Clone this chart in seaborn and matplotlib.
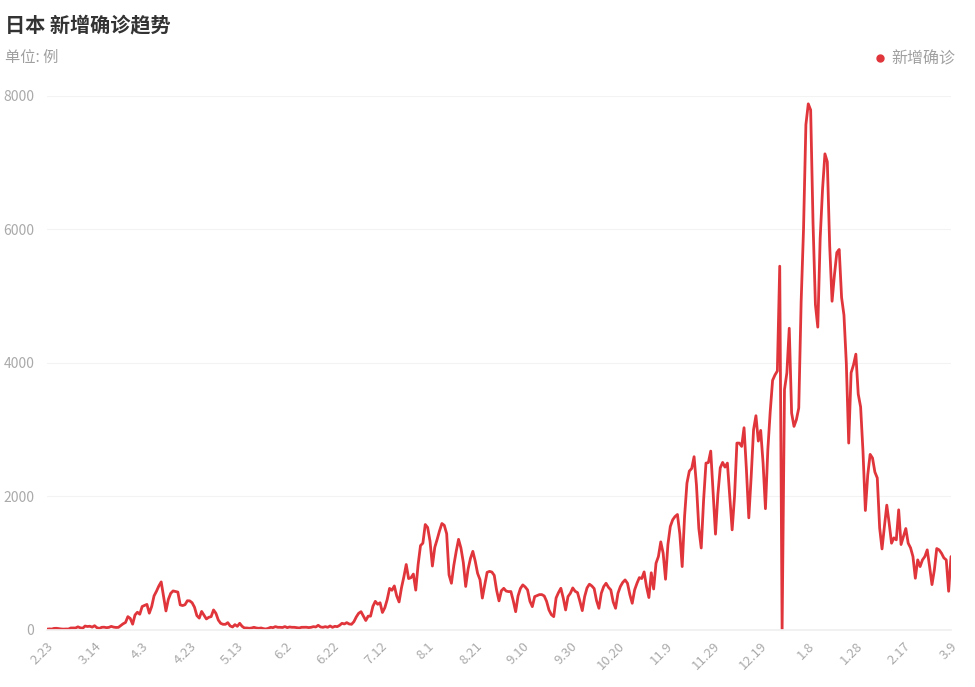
import numpy as np
import pandas as pd
import matplotlib
matplotlib.use("Agg")
import matplotlib.pyplot as plt
from matplotlib.lines import Line2D
import seaborn as sns

# daily new confirmed cases in Japan, 2020-02-23 .. 2021-03-09
feb_2020 = [12, 16, 14, 24, 25, 20, 15]
mar_2020 = [13, 15, 14, 30, 30, 30, 47, 33, 26, 59, 52, 56, 43, 64, 34, 24,
            40, 42, 35, 39, 54, 43, 38, 39, 65, 93, 112, 200, 173, 87, 225]
apr_2020 = [266, 236, 351, 368, 383, 252, 351, 511, 579, 658, 720, 507, 285,
            457, 549, 585, 576, 568, 376, 366, 378, 438, 436, 408, 341, 215,
            178, 278, 222, 165]
may_2020 = [190, 200, 300, 250, 150, 100, 85, 85, 110, 60, 45, 80, 55, 100,
            55, 30, 30, 25, 30, 40, 30, 25, 30, 20, 15, 25, 40, 35, 50, 40, 40]
jun_2020 = [37, 51, 35, 45, 40, 40, 35, 30, 40, 40, 41, 36, 40, 50, 45, 70,
            45, 40, 50, 40, 60, 40, 55, 50, 70, 100, 90, 110, 90, 85]
jul_2020 = [124, 195, 250, 274, 208, 142, 207, 207, 355, 429, 385, 408, 262,
            333, 455, 623, 595, 660, 510, 420, 631, 795, 981, 770, 783, 838,
            597, 981, 1264, 1301, 1580]
aug_2020 = [1536, 1331, 958, 1237, 1357, 1485, 1595, 1568, 1442, 826, 700,
            967, 1176, 1358, 1227, 1011, 652, 910, 1072, 1178, 1032, 849, 755,
            478, 676, 863, 878, 868, 818, 594, 436]
sep_2020 = [588, 624, 583, 575, 576, 437, 274, 509, 622, 675, 645, 600, 430,
            350, 500, 515, 530, 530, 510, 430, 300, 230, 200, 480, 560, 625,
            480, 300, 500, 550]
oct_2020 = [630, 580, 560, 430, 290, 500, 630, 686, 660, 620, 440, 325, 550,
            650, 700, 640, 600, 420, 325, 550, 650, 712, 750, 700, 530, 400,
            600, 700, 785, 770, 870]
nov_2020 = [650, 486, 857, 614, 1000, 1100, 1320, 1150, 760, 1280, 1550, 1650,
            1700, 1730, 1440, 950, 1700, 2200, 2380, 2420, 2596, 2170, 1520,
            1228, 1945, 2500, 2508, 2680, 2070, 1436]
dec_2020 = [2030, 2430, 2510, 2440, 2500, 2000, 1500, 2000, 2800, 2800, 2750,
            3030, 2400, 1680, 2300, 3000, 3210, 2830, 2990, 2500, 1817, 2700,
            3270, 3740, 3820, 3880, 5450, 0, 3600, 3850, 4520]
jan_2021 = [3250, 3050, 3150, 3325, 4915, 6001, 7570, 7882, 7790, 6094, 4875,
            4537, 5867, 6605, 7133, 7014, 5759, 4925, 5320, 5654, 5701, 4982,
            4717, 3990, 2800, 3853, 3970, 4132, 3534, 3341, 2673]
feb_2021 = [1790, 2324, 2631, 2576, 2366, 2278, 1530, 1214, 1550, 1870, 1600,
            1300, 1380, 1350, 1800, 1280, 1400, 1520, 1300, 1230, 1100, 775,
            1050, 950, 1050, 1100, 1200, 950]
mar_2021 = [680, 900, 1220, 1200, 1150, 1080, 1050, 580, 1100]

tick_labels = ["2.23", "3.14", "4.3", "4.23", "5.13", "6.2", "6.22", "7.12",
               "8.1", "8.21", "9.10", "9.30", "10.20", "11.9", "11.29",
               "12.19", "1.8", "1.28", "2.17", "3.9"]

cases = (feb_2020 + mar_2020 + apr_2020 + may_2020 + jun_2020 + jul_2020
         + aug_2020 + sep_2020 + oct_2020 + nov_2020 + dec_2020 + jan_2021
         + feb_2021 + mar_2021)
df = pd.DataFrame({"day": np.arange(len(cases)), "cases": cases})

sns.set_theme(style="white")
plt.rcParams["font.family"] = ["Noto Sans CJK SC", "DejaVu Sans"]

line_color = "#e0353b"
fig = plt.figure(figsize=(9.75, 6.87), dpi=100)
ax = fig.add_axes([0.0482, 0.0830, 0.9272, 0.7773])

sns.lineplot(data=df, x="day", y="cases", color=line_color, linewidth=2.0, ax=ax)

ax.set_xlim(0, len(cases) - 1)
ax.set_ylim(0, 8000)
ax.set_yticks([0, 2000, 4000, 6000, 8000])
ax.set_xticks(range(0, len(cases), 20))
ax.set_xticklabels(tick_labels, rotation=45, ha="right", rotation_mode="anchor")
ax.tick_params(axis="both", length=0, labelsize=9.5, labelcolor="#aaaaaa")
ax.tick_params(axis="y", pad=9, labelsize=10)
ax.tick_params(axis="x", pad=7)
ax.set_xlabel("")
ax.set_ylabel("")
ax.grid(axis="y", color="#f3f3f3", linewidth=0.8)
for side in ["top", "right", "left"]:
    ax.spines[side].set_visible(False)
ax.spines["bottom"].set_color("#f0f0f0")

fig.text(5 / 975, 1 - 25 / 687, "日本 新增确诊趋势", fontsize=14.5,
         fontweight="bold", color="#333333", va="center", ha="left")
fig.text(5 / 975, 1 - 57 / 687, "单位: 例", fontsize=11, color="#a0a0a0",
         va="center", ha="left")

handle = Line2D([], [], marker="o", color=line_color, linestyle="none", markersize=5)
ax.legend([handle], ["新增确诊"], loc="center right", frameon=False,
          bbox_to_anchor=(970 / 975, 1 - 59 / 687), bbox_transform=fig.transFigure,
          handletextpad=0.2, handlelength=1.0, prop={"size": 11.5},
          labelcolor="#a0a0a0")

fig.savefig("out.png", dpi=100)
